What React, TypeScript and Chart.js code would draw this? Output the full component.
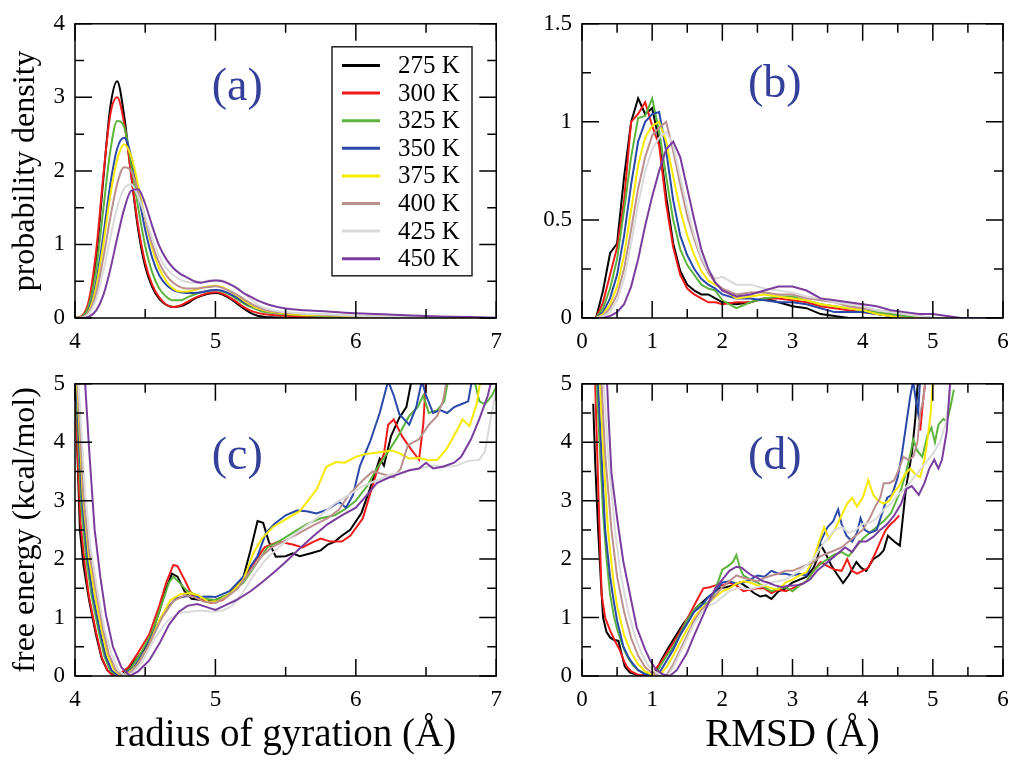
import { useEffect, useRef } from "react";
import { Chart, registerables } from "chart.js";

Chart.register(...registerables);

const FONT = "'Liberation Serif', 'Times New Roman', serif";

type Pair = [number, number | null];

const temperatures = ["275 K", "300 K", "325 K", "350 K", "375 K", "400 K", "425 K", "450 K"];
const lineColors = ["#000000", "#f01a1a", "#5cb43c", "#2a48aa", "#f7e900", "#bc8f8f", "#dadada", "#7a3d9e"];

// (a) probability density vs radius of gyration
const rgGrid = [4.0, 4.05, 4.1, 4.15, 4.2, 4.25, 4.3, 4.35, 4.4, 4.45, 4.5, 4.55, 4.6, 4.65, 4.7, 4.75, 4.8, 4.85, 4.9, 4.95, 5.0, 5.05, 5.1, 5.15, 5.2, 5.25, 5.3, 5.35, 5.4, 5.5, 5.6, 5.7, 5.8, 5.9, 6.0, 6.2, 6.4, 6.6, 6.8, 7.0];
const rgDens275 = [0, 0.02, 0.2, 0.8, 1.85, 2.85, 3.22, 2.75, 1.95, 1.2, 0.7, 0.42, 0.26, 0.18, 0.15, 0.16, 0.2, 0.26, 0.3, 0.33, 0.34, 0.32, 0.27, 0.2, 0.13, 0.07, 0.03, 0.015, 0.01, 0.005, 0, 0, 0, 0, 0, 0, 0, 0, 0, 0];
const rgDens300 = [0, 0.03, 0.25, 0.9, 1.9, 2.75, 3.0, 2.65, 1.95, 1.25, 0.75, 0.45, 0.28, 0.18, 0.15, 0.17, 0.22, 0.27, 0.31, 0.34, 0.35, 0.33, 0.28, 0.22, 0.15, 0.1, 0.07, 0.05, 0.04, 0.03, 0.02, 0.015, 0.01, 0.005, 0, 0, 0, 0, 0, 0];
const rgDens325 = [0, 0.02, 0.18, 0.65, 1.45, 2.25, 2.68, 2.6, 2.1, 1.5, 0.98, 0.62, 0.4, 0.29, 0.24, 0.24, 0.28, 0.32, 0.35, 0.37, 0.38, 0.36, 0.32, 0.26, 0.2, 0.15, 0.11, 0.08, 0.07, 0.05, 0.04, 0.03, 0.02, 0.015, 0.01, 0.005, 0, 0, 0, 0];
const rgDens350 = [0, 0.01, 0.12, 0.48, 1.1, 1.8, 2.3, 2.45, 2.2, 1.7, 1.2, 0.82, 0.58, 0.45, 0.38, 0.35, 0.34, 0.34, 0.35, 0.37, 0.38, 0.37, 0.33, 0.28, 0.22, 0.17, 0.13, 0.1, 0.08, 0.06, 0.05, 0.04, 0.035, 0.03, 0.02, 0.01, 0.005, 0, 0, 0];
const rgDens375 = [0, 0.01, 0.1, 0.42, 0.98, 1.65, 2.15, 2.36, 2.2, 1.8, 1.35, 0.95, 0.67, 0.5, 0.4, 0.36, 0.36, 0.38, 0.41, 0.43, 0.44, 0.42, 0.37, 0.31, 0.24, 0.18, 0.13, 0.1, 0.08, 0.06, 0.045, 0.04, 0.035, 0.03, 0.02, 0.01, 0.005, 0, 0, 0];
const rgDens400 = [0, 0.01, 0.08, 0.33, 0.8, 1.35, 1.82, 2.05, 2.0, 1.72, 1.35, 1.0, 0.75, 0.58, 0.48, 0.42, 0.4, 0.4, 0.41, 0.42, 0.43, 0.41, 0.37, 0.32, 0.26, 0.2, 0.15, 0.11, 0.09, 0.07, 0.06, 0.05, 0.04, 0.035, 0.03, 0.02, 0.01, 0.005, 0, 0];
const rgDens425 = [0, 0.005, 0.06, 0.25, 0.62, 1.08, 1.5, 1.76, 1.82, 1.65, 1.38, 1.08, 0.84, 0.68, 0.58, 0.52, 0.49, 0.48, 0.49, 0.51, 0.52, 0.51, 0.47, 0.41, 0.34, 0.26, 0.18, 0.14, 0.11, 0.08, 0.065, 0.055, 0.05, 0.04, 0.03, 0.02, 0.01, 0.005, 0, 0];
const rgDens450 = [0, 0, 0.02, 0.1, 0.3, 0.65, 1.08, 1.48, 1.73, 1.75, 1.55, 1.25, 0.98, 0.8, 0.68, 0.6, 0.55, 0.5, 0.48, 0.5, 0.51, 0.5, 0.46, 0.41, 0.34, 0.29, 0.24, 0.2, 0.17, 0.13, 0.11, 0.1, 0.09, 0.075, 0.065, 0.05, 0.035, 0.022, 0.012, 0.005];

// (b) probability density vs RMSD
const rmsdGrid = [0, 0.2, 0.3, 0.4, 0.5, 0.6, 0.7, 0.8, 0.9, 1.0, 1.1, 1.2, 1.3, 1.4, 1.5, 1.6, 1.7, 1.8, 1.9, 2.0, 2.2, 2.4, 2.6, 2.8, 3.0, 3.2, 3.4, 3.6, 3.8, 4.0, 4.2, 4.4, 4.6, 4.8, 5.0, 5.2, 5.4, 6.0];
const rmsdDens275 = [0, 0, 0.14, 0.33, 0.38, 0.72, 1.0, 1.12, 1.04, 1.07, 0.9, 0.62, 0.38, 0.24, 0.17, 0.14, 0.12, 0.12, 0.1, 0.08, 0.07, 0.08, 0.1, 0.08, 0.06, 0.05, 0.02, 0.01, 0, 0, 0, 0, 0, 0, 0, 0, 0, 0];
const rmsdDens300 = [0, 0, 0.08, 0.22, 0.36, 0.6, 1.0, 1.04, 1.1, 0.98, 0.88, 0.58, 0.36, 0.22, 0.15, 0.12, 0.1, 0.08, 0.08, 0.07, 0.08, 0.08, 0.1, 0.1, 0.09, 0.08, 0.06, 0.05, 0.04, 0.03, 0.02, 0.01, 0, 0, 0, 0, 0, 0];
const rmsdDens325 = [0, 0, 0.05, 0.15, 0.3, 0.55, 0.82, 1.02, 1.03, 1.12, 0.95, 0.72, 0.5, 0.35, 0.27, 0.22, 0.17, 0.15, 0.14, 0.09, 0.05, 0.08, 0.1, 0.11, 0.11, 0.09, 0.07, 0.06, 0.05, 0.04, 0.03, 0.02, 0.01, 0, 0, 0, 0, 0];
const rmsdDens350 = [0, 0, 0.03, 0.1, 0.22, 0.42, 0.68, 0.9, 1.0, 1.04, 1.05, 0.85, 0.6, 0.42, 0.32, 0.25, 0.2, 0.17, 0.15, 0.12, 0.1, 0.1, 0.09, 0.08, 0.08, 0.07, 0.05, 0.03, 0.03, 0.03, 0.02, 0.01, 0, 0, 0, 0, 0, 0];
const rmsdDens375 = [0, 0, 0.02, 0.07, 0.16, 0.32, 0.55, 0.78, 0.92, 0.98, 1.0, 0.9, 0.72, 0.55, 0.42, 0.32, 0.24, 0.19, 0.17, 0.15, 0.1, 0.11, 0.12, 0.11, 0.1, 0.09, 0.07, 0.06, 0.05, 0.04, 0.02, 0.01, 0, 0, 0, 0, 0, 0];
const rmsdDens400 = [0, 0, 0.01, 0.05, 0.12, 0.25, 0.45, 0.66, 0.82, 0.93, 0.97, 1.0, 0.85, 0.68, 0.52, 0.4, 0.3, 0.23, 0.18, 0.15, 0.12, 0.13, 0.13, 0.12, 0.12, 0.1, 0.09, 0.08, 0.06, 0.05, 0.04, 0.03, 0.02, 0.01, 0, 0, 0, 0];
const rmsdDens425 = [0, 0, 0.01, 0.03, 0.09, 0.2, 0.38, 0.58, 0.75, 0.86, 0.92, 0.95, 0.88, 0.72, 0.56, 0.42, 0.31, 0.24, 0.2, 0.21, 0.17, 0.17, 0.15, 0.14, 0.13, 0.11, 0.1, 0.08, 0.07, 0.06, 0.04, 0.03, 0.02, 0.01, 0, 0, 0, 0];
const rmsdDens450 = [0, 0, 0, 0.01, 0.03, 0.07, 0.16, 0.3, 0.47, 0.62, 0.75, 0.86, 0.9, 0.82, 0.66, 0.5, 0.35, 0.25, 0.18, 0.14, 0.11, 0.12, 0.14, 0.16, 0.16, 0.14, 0.1, 0.09, 0.08, 0.07, 0.06, 0.04, 0.03, 0.02, 0.02, 0.01, 0, 0];

// (c) free energy vs radius of gyration, [Rg, kcal/mol]
const rgFe275: Pair[] = [[4.0, 5.1], [4.02, 3.6], [4.035, 2.5], [4.06, 1.9], [4.1, 1.3], [4.15, 0.7], [4.19, 0.3], [4.23, 0.1], [4.28, 0], [4.33, 0.04], [4.38, 0.12], [4.44, 0.3], [4.49, 0.45], [4.55, 0.75], [4.6, 1.1], [4.65, 1.5], [4.69, 1.75], [4.73, 1.7], [4.78, 1.45], [4.83, 1.32], [4.9, 1.3], [5.0, 1.3], [5.1, 1.4], [5.2, 1.7], [5.25, 2.15], [5.3, 2.65], [5.34, 2.62], [5.38, 2.3], [5.43, 2.04], [5.5, 2.05], [5.55, 2.1], [5.6, 2.05], [5.68, 2.1], [5.75, 2.15], [5.8, 2.25], [5.85, 2.3], [5.9, 2.4], [5.96, 2.5], [6.04, 2.79], [6.1, 3.2], [6.17, 3.72], [6.2, 3.6], [6.25, 4.1], [6.31, 4.42], [6.36, 4.6], [6.4, 5.1]];
const rgFe300: Pair[] = [[4.0, 5.2], [4.02, 3.7], [4.04, 2.6], [4.07, 1.9], [4.1, 1.35], [4.15, 0.75], [4.19, 0.32], [4.23, 0.1], [4.27, 0], [4.32, 0.04], [4.38, 0.15], [4.45, 0.4], [4.53, 0.72], [4.6, 1.2], [4.65, 1.6], [4.7, 1.9], [4.73, 1.88], [4.78, 1.65], [4.83, 1.4], [4.9, 1.3], [4.97, 1.25], [5.05, 1.3], [5.15, 1.5], [5.25, 1.85], [5.35, 2.2], [5.45, 2.3], [5.55, 2.25], [5.62, 2.2], [5.7, 2.3], [5.75, 2.35], [5.82, 2.3], [5.9, 2.3], [5.96, 2.4], [6.05, 2.7], [6.1, 3.1], [6.15, 3.5], [6.2, 3.8], [6.23, 4.3], [6.27, 4.39], [6.33, 4.1], [6.39, 3.89], [6.45, 3.7], [6.48, 4.3], [6.5, 5.1]];
const rgFe325: Pair[] = [[4.0, 5.3], [4.02, 4.2], [4.045, 2.9], [4.08, 2.0], [4.12, 1.35], [4.17, 0.75], [4.21, 0.33], [4.25, 0.1], [4.3, 0], [4.35, 0.04], [4.4, 0.14], [4.47, 0.4], [4.55, 0.75], [4.62, 1.25], [4.67, 1.6], [4.7, 1.7], [4.75, 1.58], [4.8, 1.45], [4.85, 1.4], [4.92, 1.32], [5.0, 1.3], [5.1, 1.4], [5.2, 1.6], [5.3, 1.95], [5.37, 2.2], [5.45, 2.3], [5.55, 2.45], [5.65, 2.6], [5.75, 2.7], [5.85, 2.75], [5.92, 2.85], [6.0, 3.0], [6.08, 3.25], [6.15, 3.55], [6.22, 3.8], [6.3, 4.1], [6.38, 4.45], [6.44, 4.6], [6.48, 4.8], [6.52, 4.5], [6.58, 4.55], [6.63, 4.7], [6.66, 5.1], [6.75, 5.4], [6.84, 5.1], [6.88, 4.7], [6.92, 4.65], [6.97, 4.8], [7.0, 4.95]];
const rgFe350: Pair[] = [[4.0, 5.4], [4.025, 4.2], [4.05, 3.0], [4.09, 2.0], [4.13, 1.35], [4.18, 0.75], [4.22, 0.33], [4.26, 0.1], [4.31, 0], [4.36, 0.04], [4.42, 0.15], [4.5, 0.45], [4.58, 0.85], [4.65, 1.15], [4.72, 1.33], [4.8, 1.37], [4.88, 1.35], [4.95, 1.36], [5.0, 1.35], [5.1, 1.45], [5.2, 1.7], [5.3, 2.05], [5.36, 2.45], [5.42, 2.6], [5.5, 2.75], [5.58, 2.83], [5.65, 2.82], [5.72, 2.78], [5.8, 2.85], [5.88, 2.98], [5.93, 2.88], [5.98, 3.1], [6.03, 3.6], [6.1, 4.0], [6.17, 4.5], [6.23, 5.05], [6.27, 4.8], [6.31, 4.48], [6.38, 4.3], [6.43, 4.6], [6.47, 5.05], [6.5, 4.8], [6.55, 4.5], [6.6, 4.55], [6.65, 4.5], [6.7, 4.6], [6.75, 4.65], [6.8, 4.7], [6.83, 5.1]];
const rgFe375: Pair[] = [[4.0, 5.6], [4.03, 4.3], [4.055, 3.1], [4.1, 2.0], [4.14, 1.4], [4.19, 0.78], [4.23, 0.36], [4.28, 0.1], [4.33, 0], [4.38, 0.05], [4.44, 0.18], [4.52, 0.5], [4.6, 0.95], [4.68, 1.3], [4.75, 1.4], [4.82, 1.42], [4.88, 1.38], [4.95, 1.27], [5.02, 1.28], [5.1, 1.4], [5.2, 1.65], [5.27, 2.1], [5.33, 2.35], [5.41, 2.55], [5.5, 2.68], [5.6, 2.82], [5.66, 3.0], [5.72, 3.19], [5.79, 3.58], [5.86, 3.66], [5.92, 3.65], [6.0, 3.75], [6.07, 3.8], [6.17, 3.83], [6.26, 3.86], [6.32, 3.8], [6.38, 3.72], [6.45, 3.73], [6.52, 3.69], [6.58, 3.7], [6.65, 3.9], [6.72, 4.2], [6.76, 4.39], [6.81, 4.28], [6.86, 4.65], [6.89, 5.1]];
const rgFe400: Pair[] = [[4.0, 5.8], [4.035, 4.3], [4.06, 3.1], [4.1, 2.15], [4.15, 1.45], [4.2, 0.8], [4.24, 0.38], [4.29, 0.1], [4.34, 0], [4.39, 0.05], [4.45, 0.2], [4.53, 0.55], [4.62, 1.0], [4.7, 1.28], [4.78, 1.38], [4.85, 1.35], [4.92, 1.27], [5.0, 1.25], [5.08, 1.35], [5.16, 1.5], [5.25, 1.8], [5.33, 2.05], [5.4, 2.2], [5.5, 2.32], [5.6, 2.45], [5.7, 2.58], [5.8, 2.7], [5.88, 2.85], [5.95, 3.1], [6.05, 3.35], [6.12, 3.5], [6.2, 3.45], [6.27, 3.4], [6.32, 3.55], [6.37, 3.95], [6.45, 4.05], [6.52, 4.3], [6.58, 4.45], [6.62, 4.7], [6.65, 5.1]];
const rgFe425: Pair[] = [[4.0, 6.0], [4.04, 4.4], [4.07, 3.2], [4.11, 2.2], [4.16, 1.45], [4.21, 0.8], [4.26, 0.38], [4.31, 0.1], [4.36, 0], [4.41, 0.05], [4.48, 0.25], [4.57, 0.65], [4.66, 0.95], [4.74, 1.08], [4.82, 1.1], [4.9, 1.12], [4.98, 1.1], [5.05, 1.12], [5.12, 1.2], [5.2, 1.45], [5.28, 1.75], [5.36, 2.0], [5.45, 2.2], [5.55, 2.4], [5.65, 2.58], [5.75, 2.75], [5.85, 2.95], [5.95, 3.1], [6.05, 3.25], [6.15, 3.35], [6.25, 3.45], [6.35, 3.5], [6.45, 3.55], [6.55, 3.6], [6.65, 3.58], [6.72, 3.6], [6.8, 3.68], [6.88, 3.7], [6.92, 3.85], [6.96, 4.4], [7.0, 4.9]];
const rgFe450: Pair[] = [[4.07, 5.1], [4.1, 3.9], [4.14, 2.5], [4.18, 1.7], [4.22, 1.05], [4.27, 0.5], [4.33, 0.15], [4.39, 0], [4.45, 0.08], [4.53, 0.27], [4.6, 0.55], [4.67, 0.88], [4.74, 1.1], [4.8, 1.2], [4.87, 1.23], [4.95, 1.17], [5.0, 1.13], [5.08, 1.22], [5.15, 1.3], [5.25, 1.45], [5.33, 1.6], [5.42, 1.78], [5.5, 1.95], [5.6, 2.18], [5.7, 2.4], [5.8, 2.6], [5.9, 2.75], [6.0, 2.88], [6.08, 3.1], [6.15, 3.3], [6.22, 3.38], [6.3, 3.45], [6.38, 3.52], [6.45, 3.55], [6.5, 3.65], [6.55, 3.55], [6.62, 3.58], [6.7, 3.65], [6.75, 3.75], [6.82, 4.05], [6.88, 4.4], [6.94, 4.8], [6.97, 5.1]];

// (d) free energy vs RMSD, [RMSD, kcal/mol]
const rmsdFe275: Pair[] = [[0.16, 4.66], [0.19, 3.6], [0.23, 2.5], [0.27, 1.6], [0.3, 1.0], [0.35, 0.75], [0.4, 0.66], [0.45, 0.62], [0.52, 0.6], [0.56, 0.4], [0.61, 0.16], [0.68, 0.06], [0.78, 0.02], [0.85, 0], [0.92, 0.04], [1.0, 0.02], [1.06, 0.1], [1.12, 0.25], [1.21, 0.44], [1.3, 0.62], [1.44, 0.89], [1.55, 1.05], [1.63, 1.17], [1.75, 1.3], [1.85, 1.4], [1.95, 1.5], [2.05, 1.52], [2.15, 1.55], [2.25, 1.6], [2.35, 1.52], [2.45, 1.42], [2.54, 1.36], [2.62, 1.38], [2.7, 1.32], [2.8, 1.45], [2.9, 1.5], [3.0, 1.6], [3.1, 1.65], [3.2, 1.7], [3.3, 1.85], [3.35, 2.0], [3.4, 2.25], [3.47, 2.1], [3.55, 1.9], [3.63, 1.75], [3.72, 1.59], [3.8, 1.72], [3.91, 1.95], [3.98, 1.85], [4.05, 1.8], [4.15, 2.0], [4.24, 2.07], [4.3, 2.15], [4.36, 2.4], [4.45, 2.3], [4.53, 2.23], [4.62, 3.24], [4.7, 3.8], [4.75, 4.4], [4.79, 5.1]];
const rmsdFe300: Pair[] = [[0.18, 5.3], [0.22, 3.7], [0.25, 2.5], [0.28, 1.39], [0.33, 1.0], [0.4, 0.78], [0.47, 0.6], [0.54, 0.44], [0.6, 0.25], [0.64, 0.16], [0.7, 0.08], [0.8, 0.02], [0.9, 0], [1.0, 0.05], [1.11, 0.21], [1.2, 0.38], [1.35, 0.66], [1.5, 0.98], [1.63, 1.28], [1.73, 1.5], [1.82, 1.52], [1.9, 1.55], [2.0, 1.55], [2.1, 1.6], [2.2, 1.55], [2.3, 1.45], [2.4, 1.48], [2.5, 1.5], [2.6, 1.5], [2.7, 1.42], [2.8, 1.48], [2.9, 1.45], [3.0, 1.5], [3.1, 1.55], [3.2, 1.62], [3.3, 1.8], [3.4, 1.95], [3.5, 1.88], [3.6, 1.82], [3.7, 1.8], [3.78, 2.0], [3.85, 1.8], [3.92, 1.75], [4.0, 1.8], [4.08, 1.85], [4.18, 2.1], [4.27, 2.35], [4.33, 2.5], [4.4, 2.6], [4.45, 2.65], [4.52, 2.75], [4.6, null], [4.82, 4.2], [4.86, 4.7], [4.9, 5.1]];
const rmsdFe325: Pair[] = [[0.2, 5.2], [0.25, 4.0], [0.3, 2.8], [0.35, 2.0], [0.4, 1.4], [0.45, 1.05], [0.5, 0.8], [0.54, 0.66], [0.6, 0.45], [0.66, 0.3], [0.73, 0.18], [0.8, 0.1], [0.9, 0.04], [1.0, 0], [1.06, 0.05], [1.12, 0.18], [1.2, 0.33], [1.3, 0.5], [1.4, 0.72], [1.49, 0.94], [1.58, 1.1], [1.68, 1.22], [1.78, 1.25], [1.85, 1.3], [1.92, 1.55], [2.0, 1.82], [2.08, 1.88], [2.15, 1.95], [2.2, 2.07], [2.25, 1.85], [2.3, 1.72], [2.4, 1.65], [2.5, 1.6], [2.6, 1.52], [2.7, 1.45], [2.8, 1.5], [2.9, 1.52], [3.0, 1.45], [3.1, 1.55], [3.2, 1.62], [3.3, 1.8], [3.4, 1.92], [3.5, 2.0], [3.6, 2.08], [3.7, 2.12], [3.8, 2.05], [3.9, 2.2], [4.0, 2.35], [4.1, 2.45], [4.2, 2.55], [4.3, 2.65], [4.4, 2.78], [4.48, 3.0], [4.55, 3.2], [4.62, 3.5], [4.68, 3.8], [4.72, 4.05], [4.78, 3.85], [4.85, 3.75], [4.92, 4.1], [4.98, 4.25], [5.03, 4.0], [5.08, 4.3], [5.15, 4.4], [5.2, 4.35], [5.25, 4.6], [5.3, 4.9]];
const rmsdFe350: Pair[] = [[0.22, 5.2], [0.27, 4.0], [0.33, 2.5], [0.4, 1.7], [0.45, 1.3], [0.5, 0.95], [0.59, 0.5], [0.65, 0.35], [0.7, 0.25], [0.8, 0.1], [0.9, 0.03], [1.0, 0.01], [1.05, 0], [1.1, 0.05], [1.2, 0.25], [1.3, 0.45], [1.4, 0.7], [1.5, 0.9], [1.6, 1.1], [1.7, 1.2], [1.8, 1.35], [1.9, 1.45], [2.0, 1.6], [2.1, 1.62], [2.2, 1.58], [2.3, 1.6], [2.4, 1.65], [2.5, 1.72], [2.6, 1.7], [2.7, 1.8], [2.8, 1.75], [2.9, 1.75], [3.0, 1.72], [3.1, 1.75], [3.2, 1.72], [3.3, 2.0], [3.4, 2.3], [3.5, 2.55], [3.58, 2.65], [3.65, 2.85], [3.7, 2.6], [3.77, 2.4], [3.85, 2.3], [3.92, 2.45], [3.97, 2.7], [4.03, 2.5], [4.1, 2.45], [4.2, 2.5], [4.28, 2.8], [4.35, 3.05], [4.42, 3.1], [4.5, 3.4], [4.56, 3.8], [4.62, 4.3], [4.68, 4.8], [4.72, 5.05], [4.76, 4.7], [4.79, 4.5], [4.82, 5.1]];
const rmsdFe375: Pair[] = [[0.25, 5.2], [0.3, 3.9], [0.37, 2.5], [0.45, 1.6], [0.5, 1.2], [0.6, 0.7], [0.7, 0.4], [0.8, 0.2], [0.9, 0.08], [1.0, 0.02], [1.1, 0], [1.21, 0.16], [1.3, 0.35], [1.4, 0.58], [1.5, 0.8], [1.6, 1.0], [1.7, 1.15], [1.8, 1.25], [1.9, 1.35], [2.0, 1.45], [2.1, 1.5], [2.2, 1.58], [2.3, 1.62], [2.4, 1.6], [2.5, 1.55], [2.6, 1.55], [2.7, 1.5], [2.8, 1.48], [2.9, 1.6], [3.0, 1.65], [3.1, 1.72], [3.2, 1.78], [3.3, 2.0], [3.38, 2.3], [3.45, 2.55], [3.52, 2.35], [3.6, 2.5], [3.7, 2.75], [3.78, 2.95], [3.85, 3.05], [3.92, 2.9], [4.0, 3.05], [4.08, 3.35], [4.15, 3.1], [4.22, 3.0], [4.3, 2.95], [4.38, 3.0], [4.45, 3.15], [4.52, 3.25], [4.6, 3.45], [4.68, 3.55], [4.75, 3.45], [4.82, 3.4], [4.88, 3.7], [4.93, 4.1], [4.97, 4.5], [5.0, 5.1]];
const rmsdFe400: Pair[] = [[0.27, 5.2], [0.33, 3.8], [0.42, 2.5], [0.5, 1.7], [0.6, 1.1], [0.7, 0.65], [0.8, 0.35], [0.9, 0.15], [1.0, 0.05], [1.1, 0.01], [1.2, 0], [1.3, 0.2], [1.4, 0.45], [1.5, 0.7], [1.6, 0.95], [1.7, 1.12], [1.8, 1.25], [1.9, 1.38], [2.0, 1.52], [2.1, 1.62], [2.2, 1.72], [2.3, 1.68], [2.4, 1.65], [2.5, 1.62], [2.6, 1.68], [2.7, 1.72], [2.8, 1.75], [2.9, 1.8], [3.0, 1.8], [3.1, 1.85], [3.2, 1.9], [3.3, 1.95], [3.4, 2.05], [3.5, 2.1], [3.6, 2.15], [3.7, 2.2], [3.8, 2.3], [3.9, 2.4], [4.0, 2.5], [4.1, 2.7], [4.18, 2.9], [4.25, 3.05], [4.3, 3.3], [4.38, 3.3], [4.45, 3.35], [4.52, 3.55], [4.58, 3.75], [4.65, 3.7], [4.72, 3.75], [4.78, 4.0], [4.82, 4.5], [4.86, 4.7], [4.9, 5.1]];
const rmsdFe425: Pair[] = [[0.3, 5.2], [0.37, 3.8], [0.47, 2.5], [0.55, 1.75], [0.65, 1.15], [0.75, 0.7], [0.85, 0.38], [0.95, 0.17], [1.05, 0.06], [1.15, 0.01], [1.22, 0], [1.3, 0.15], [1.4, 0.4], [1.5, 0.65], [1.6, 0.9], [1.7, 1.08], [1.8, 1.2], [1.9, 1.25], [2.0, 1.35], [2.1, 1.45], [2.2, 1.5], [2.3, 1.5], [2.4, 1.48], [2.5, 1.52], [2.6, 1.55], [2.7, 1.6], [2.8, 1.62], [2.9, 1.65], [3.0, 1.72], [3.1, 1.8], [3.2, 1.9], [3.3, 2.0], [3.4, 2.2], [3.5, 2.35], [3.6, 2.5], [3.7, 2.55], [3.8, 2.45], [3.9, 2.5], [4.0, 2.6], [4.1, 2.62], [4.2, 2.7], [4.3, 2.85], [4.4, 2.95], [4.5, 3.1], [4.6, 3.2], [4.7, 3.35], [4.8, 3.5], [4.9, 3.65], [5.0, 3.8], [5.1, 4.0], [5.18, 4.3], [5.23, 4.7], [5.26, 5.1]];
const rmsdFe450: Pair[] = [[0.35, 5.2], [0.38, 4.4], [0.42, 3.47], [0.5, 2.7], [0.59, 1.95], [0.7, 1.3], [0.78, 0.83], [0.9, 0.45], [0.97, 0.27], [1.05, 0.12], [1.15, 0.03], [1.25, 0], [1.35, 0.1], [1.49, 0.38], [1.6, 0.7], [1.73, 1.05], [1.82, 1.3], [1.9, 1.5], [2.0, 1.65], [2.1, 1.8], [2.2, 1.87], [2.28, 1.85], [2.35, 1.78], [2.42, 1.72], [2.5, 1.68], [2.58, 1.62], [2.65, 1.6], [2.75, 1.55], [2.85, 1.52], [2.95, 1.55], [3.05, 1.55], [3.15, 1.58], [3.25, 1.65], [3.35, 1.8], [3.45, 1.9], [3.55, 2.0], [3.65, 2.1], [3.75, 2.2], [3.85, 2.12], [3.95, 2.3], [4.05, 2.3], [4.15, 2.38], [4.25, 2.5], [4.35, 2.6], [4.45, 2.75], [4.55, 2.95], [4.62, 3.2], [4.7, 3.25], [4.8, 3.1], [4.88, 3.3], [4.95, 3.55], [5.02, 3.7], [5.08, 3.55], [5.13, 3.7], [5.2, 4.2], [5.25, 5.1]];

const onGrid = (xs: number[], ys: number[]) => xs.map((x, i) => ({ x, y: ys[i] }));
const fromPairs = (pts: Pair[]) => pts.map(([x, y]) => ({ x, y }));

const isStep = (v: number, step: number) => Math.abs(v / step - Math.round(v / step)) < 1e-6;

interface PanelSpec {
  left: number;
  top: number;
  width: number;
  height: number;
  yAxisWidth: number;
  xAxisHeight: number;
  padTop: number;
  padRight: number;
  x: { min: number; max: number; step: number; label: number };
  y: { min: number; max: number; step: number; label: number };
  xTitle?: string;
  yTitle?: string;
  tag: string;
  tagAt: [number, number];
  legend: boolean;
  smooth: boolean;
  series: { x: number; y: number | null }[][];
}

const panels: PanelSpec[] = [
  {
    left: 0, top: 0, width: 512, height: 360, yAxisWidth: 75, xAxisHeight: 42, padTop: 21, padRight: 15,
    x: { min: 4, max: 7, step: 0.5, label: 1 },
    y: { min: 0, max: 4, step: 0.5, label: 1 },
    yTitle: "probability density",
    tag: "(a)", tagAt: [0.385, 0.219], legend: true, smooth: true,
    series: [rgDens275, rgDens300, rgDens325, rgDens350, rgDens375, rgDens400, rgDens425, rgDens450].map((ys) => onGrid(rgGrid, ys)),
  },
  {
    left: 512, top: 0, width: 512, height: 360, yAxisWidth: 70, xAxisHeight: 42, padTop: 21, padRight: 21,
    x: { min: 0, max: 6, step: 0.5, label: 1 },
    y: { min: 0, max: 1.5, step: 0.25, label: 0.5 },
    tag: "(b)", tagAt: [0.458, 0.209], legend: false, smooth: false,
    series: [rmsdDens275, rmsdDens300, rmsdDens325, rmsdDens350, rmsdDens375, rmsdDens400, rmsdDens425, rmsdDens450].map((ys) => onGrid(rmsdGrid, ys)),
  },
  {
    left: 0, top: 360, width: 512, height: 411, yAxisWidth: 75, xAxisHeight: 95, padTop: 19, padRight: 15,
    x: { min: 4, max: 7, step: 0.5, label: 1 },
    y: { min: 0, max: 5, step: 0.5, label: 1 },
    xTitle: "radius of gyration (Å)",
    yTitle: "free energy (kcal/mol)",
    tag: "(c)", tagAt: [0.385, 0.25], legend: false, smooth: false,
    series: [rgFe275, rgFe300, rgFe325, rgFe350, rgFe375, rgFe400, rgFe425, rgFe450].map(fromPairs),
  },
  {
    left: 512, top: 360, width: 512, height: 411, yAxisWidth: 70, xAxisHeight: 95, padTop: 19, padRight: 21,
    x: { min: 0, max: 6, step: 0.5, label: 1 },
    y: { min: 0, max: 5, step: 0.5, label: 1 },
    xTitle: "RMSD (Å)",
    tag: "(d)", tagAt: [0.458, 0.25], legend: false, smooth: false,
    series: [rmsdFe275, rmsdFe300, rmsdFe325, rmsdFe350, rmsdFe375, rmsdFe400, rmsdFe425, rmsdFe450].map(fromPairs),
  },
];

// frame with inward ticks on all four sides, panel tag and boxed legend
const framePlugin = {
  id: "frame",
  afterDatasetsDraw(chart: any, _args: any, opts: any) {
    const { ctx, chartArea: a } = chart;
    const sx = chart.scales.x;
    const sy = chart.scales.y;
    ctx.save();
    ctx.strokeStyle = "#000";
    ctx.lineWidth = 1.5;
    ctx.strokeRect(a.left, a.top, a.right - a.left, a.bottom - a.top);
    ctx.beginPath();
    for (const t of sx.ticks) {
      const px = sx.getPixelForValue(t.value);
      const len = isStep(t.value, opts.xLabel) ? 17 : 9;
      ctx.moveTo(px, a.bottom);
      ctx.lineTo(px, a.bottom - len);
      ctx.moveTo(px, a.top);
      ctx.lineTo(px, a.top + len);
    }
    for (const t of sy.ticks) {
      const py = sy.getPixelForValue(t.value);
      const len = isStep(t.value, opts.yLabel) ? 17 : 9;
      ctx.moveTo(a.left, py);
      ctx.lineTo(a.left + len, py);
      ctx.moveTo(a.right, py);
      ctx.lineTo(a.right - len, py);
    }
    ctx.stroke();

    ctx.fillStyle = "#34409a";
    ctx.font = `46px ${FONT}`;
    ctx.textAlign = "center";
    ctx.textBaseline = "middle";
    ctx.fillText(
      opts.tag,
      a.left + opts.tagAt[0] * (a.right - a.left),
      a.top + opts.tagAt[1] * (a.bottom - a.top)
    );

    if (opts.legend) {
      const bx = a.left + 257;
      const by = a.top + 23;
      ctx.fillStyle = "#fff";
      ctx.fillRect(bx, by, 140, 229);
      ctx.strokeStyle = "#222";
      ctx.lineWidth = 1.5;
      ctx.strokeRect(bx, by, 140, 229);
      ctx.font = `25px ${FONT}`;
      ctx.textAlign = "left";
      chart.data.datasets.forEach((ds: any, i: number) => {
        const ly = by + 18.7 + i * 27.6;
        ctx.strokeStyle = ds.borderColor;
        ctx.lineWidth = 3;
        ctx.beginPath();
        ctx.moveTo(bx + 10, ly);
        ctx.lineTo(bx + 48, ly);
        ctx.stroke();
        ctx.fillStyle = "#000";
        ctx.fillText(ds.label, bx + 66, ly + 1);
      });
    }
    ctx.restore();
  },
};

function Panel({ spec }: { spec: PanelSpec }) {
  const canvasRef = useRef<HTMLCanvasElement>(null);

  useEffect(() => {
    if (!canvasRef.current) return;
    const tickFont = { family: FONT, size: 23 };
    const chart = new Chart(canvasRef.current, {
      type: "line",
      data: {
        datasets: spec.series.map((pts, i) => ({
          label: temperatures[i],
          data: pts as any,
          borderColor: lineColors[i],
          backgroundColor: lineColors[i],
          borderWidth: 2,
          pointRadius: 0,
          fill: false,
          order: spec.series.length - i,
          tension: 0,
          cubicInterpolationMode: spec.smooth ? "monotone" : "default",
        })),
      },
      options: {
        animation: false,
        responsive: false,
        events: [],
        layout: { padding: { top: spec.padTop, right: spec.padRight, left: 0, bottom: 0 } },
        plugins: {
          legend: { display: false },
          tooltip: { enabled: false },
          frame: {
            tag: spec.tag,
            tagAt: spec.tagAt,
            legend: spec.legend,
            xLabel: spec.x.label,
            yLabel: spec.y.label,
          },
        } as any,
        scales: {
          x: {
            type: "linear",
            min: spec.x.min,
            max: spec.x.max,
            afterFit: (s: any) => {
              s.height = spec.xAxisHeight;
            },
            grid: { display: false, drawTicks: false },
            border: { display: false },
            ticks: {
              stepSize: spec.x.step,
              autoSkip: false,
              maxRotation: 0,
              padding: 10,
              color: "#000",
              font: tickFont,
              callback: (v: any) => (isStep(Number(v), spec.x.label) ? String(+Number(v).toFixed(2)) : ""),
            },
            title: {
              display: !!spec.xTitle,
              text: spec.xTitle ?? "",
              color: "#000",
              font: { family: FONT, size: 39 },
              padding: { top: 0, bottom: 12 },
            },
          },
          y: {
            type: "linear",
            min: spec.y.min,
            max: spec.y.max,
            afterFit: (s: any) => {
              s.width = spec.yAxisWidth;
            },
            grid: { display: false, drawTicks: false },
            border: { display: false },
            ticks: {
              stepSize: spec.y.step,
              autoSkip: false,
              padding: 10,
              color: "#000",
              font: tickFont,
              callback: (v: any) => (isStep(Number(v), spec.y.label) ? String(+Number(v).toFixed(2)) : ""),
            },
            title: {
              display: !!spec.yTitle,
              text: spec.yTitle ?? "",
              color: "#000",
              font: { family: FONT, size: 32 },
              padding: { top: 6, bottom: 0 },
            },
          },
        },
      },
      plugins: [framePlugin],
    });
    return () => chart.destroy();
  }, [spec]);

  return (
    <div style={{ position: "absolute", left: spec.left, top: spec.top, width: spec.width, height: spec.height }}>
      <canvas ref={canvasRef} width={spec.width} height={spec.height} />
    </div>
  );
}

export default function App() {
  return (
    <div style={{ position: "absolute", left: 0, top: 0, width: 1024, height: 771, background: "#fff" }}>
      {panels.map((p) => (
        <Panel key={p.tag} spec={p} />
      ))}
    </div>
  );
}
